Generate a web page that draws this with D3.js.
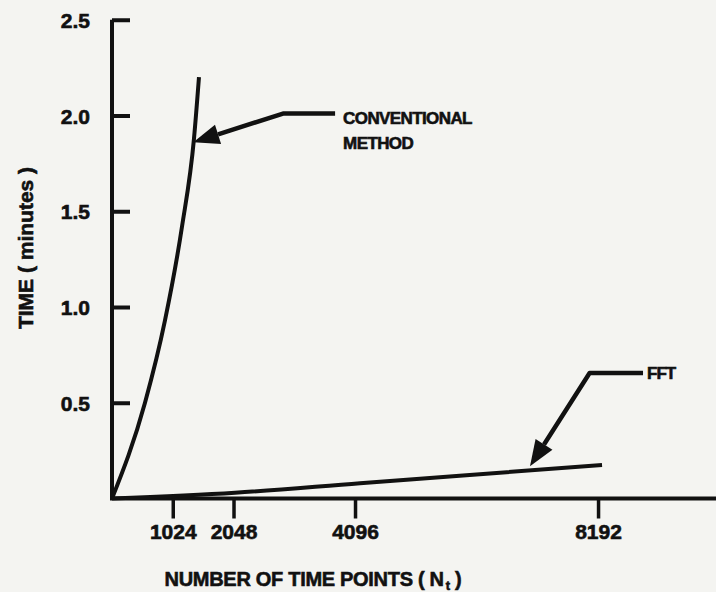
<!DOCTYPE html>
<html>
<head>
<meta charset="utf-8">
<script src="https://cdn.jsdelivr.net/npm/d3@7"></script>
<style>
  html, body { margin: 0; padding: 0; background: #f4f4f1; }
  svg { display: block; }
  text { font-family: "Liberation Sans", Arial, Helvetica, sans-serif; font-weight: bold; fill: #111; stroke: #111; stroke-width: 0.6px; }
</style>
</head>
<body>
<svg id="chart" width="716" height="592"></svg>
<script>
// ---- data ----
const xTicks = [1024, 2048, 4096, 8192];
const yTicks = [0.5, 1.0, 1.5, 2.0, 2.5];
const yTickLabels = ["0.5", "1.0", "1.5", "2.0", "2.5"];

const convN    = [0, 556, 893, 1180, 1382, 1466];
const convTime = [0, 0.50, 0.93, 1.42, 1.88, 2.20];

const fftN    = [0, 2073, 4180, 5916, 8259];
const fftTime = [0, 0.03, 0.08, 0.12, 0.175];

const labels = {
  conventional: ["CONVENTIONAL", "METHOD"],
  fft: "FFT",
  xTitle: "NUMBER OF TIME POINTS (",
  xTitleSub: "t",
  yTitle: "TIME ( minutes )"
};

// annotation anchor points in data units: tip, elbow, end
const convArrow = { tip: [1370, 1.86], elbow: [2882, 2.01], end: [3760, 2.01] };
const fftArrow  = { tip: [7045, 0.168], elbow: [8050, 0.655], end: [8950, 0.655] };

// ---- drawing ----
const svg = d3.select("#chart");
const ink = "#111";

const x = d3.scaleLinear().domain([0, 10180]).range([112, 716]);
const y = d3.scaleLinear().domain([0, 2.5]).range([498.5, 19.75]);

// y axis
const yAxis = d3.axisRight(y).tickValues(yTicks).tickSize(18).tickFormat("");
const gy = svg.append("g").attr("transform", `translate(${x(0)},0)`).call(yAxis);
gy.select(".domain").attr("d", `M0,${y(2.5)}V${y(0)}`).attr("stroke", ink).attr("stroke-width", 4);
gy.selectAll(".tick line").attr("stroke", ink).attr("stroke-width", 4);

gy.selectAll(".tick").append("text")
  .attr("x", -22).attr("dy", "0.36em")
  .attr("text-anchor", "end")
  .attr("font-size", 21)
  .text((d, i) => yTickLabels[i]);

// x axis
const xAxis = d3.axisBottom(x).tickValues(xTicks).tickSize(20).tickFormat("");
const gx = svg.append("g").attr("transform", `translate(0,${y(0)})`).call(xAxis);
gx.select(".domain").attr("d", `M${x(0) - 2},0H716`).attr("stroke", ink).attr("stroke-width", 4);
gx.selectAll(".tick line").attr("stroke", ink).attr("stroke-width", 3.5);
gx.selectAll(".tick").append("text")
  .attr("y", 40)
  .attr("text-anchor", "middle")
  .attr("font-size", 21)
  .text(d => d);

// series
const line = d3.line().x(d => x(d[0])).y(d => y(d[1])).curve(d3.curveMonotoneX);
svg.append("path")
  .datum(convN.map((n, i) => [n, convTime[i]]))
  .attr("d", line).attr("fill", "none").attr("stroke", ink).attr("stroke-width", 4);
svg.append("path")
  .datum(fftN.map((n, i) => [n, fftTime[i]]))
  .attr("d", line).attr("fill", "none").attr("stroke", ink).attr("stroke-width", 4);

// arrows
function arrow(a) {
  const tip = [x(a.tip[0]), y(a.tip[1])];
  const el = [x(a.elbow[0]), y(a.elbow[1])];
  const en = [x(a.end[0]), y(a.end[1])];
  const dx = el[0] - tip[0], dy = el[1] - tip[1];
  const len = Math.hypot(dx, dy);
  const ux = dx / len, uy = dy / len;
  const headLen = 26, headW = 10;
  const base = [tip[0] + ux * headLen, tip[1] + uy * headLen];
  svg.append("path")
    .attr("d", d3.line().curve(d3.curveLinear)([[base[0], base[1]], el, en]))
    .attr("fill", "none").attr("stroke", ink).attr("stroke-width", 4.5)
    .attr("stroke-linejoin", "round");
  svg.append("path")
    .attr("d", `M${tip[0]},${tip[1]}L${base[0] - uy * headW},${base[1] + ux * headW}L${base[0] + uy * headW},${base[1] - ux * headW}Z`)
    .attr("fill", ink);
  return en;
}
const cEnd = arrow(convArrow);
const fEnd = arrow(fftArrow);

svg.append("text").attr("x", cEnd[0] + 8).attr("y", cEnd[1] + 10)
  .attr("font-size", 17).attr("letter-spacing", -0.6).text(labels.conventional[0]);
svg.append("text").attr("x", cEnd[0] + 8).attr("y", cEnd[1] + 35)
  .attr("font-size", 17).attr("letter-spacing", -0.6).text(labels.conventional[1]);
svg.append("text").attr("x", fEnd[0] + 4).attr("y", fEnd[1] + 6)
  .attr("font-size", 17).attr("letter-spacing", -1).text(labels.fft);

// axis titles
const xt = svg.append("text").attr("x", 313).attr("y", 586)
  .attr("text-anchor", "middle").attr("font-size", 20).attr("letter-spacing", -0.3);
xt.append("tspan").text(labels.xTitle + " N");
xt.append("tspan").attr("font-size", 13).attr("dx", 2).attr("dy", 4).text(labels.xTitleSub);
xt.append("tspan").attr("dy", -4).text(" )");

svg.append("text")
  .attr("transform", "translate(33,248) rotate(-90)")
  .attr("text-anchor", "middle").attr("font-size", 21)
  .text(labels.yTitle);
</script>
</body>
</html>
